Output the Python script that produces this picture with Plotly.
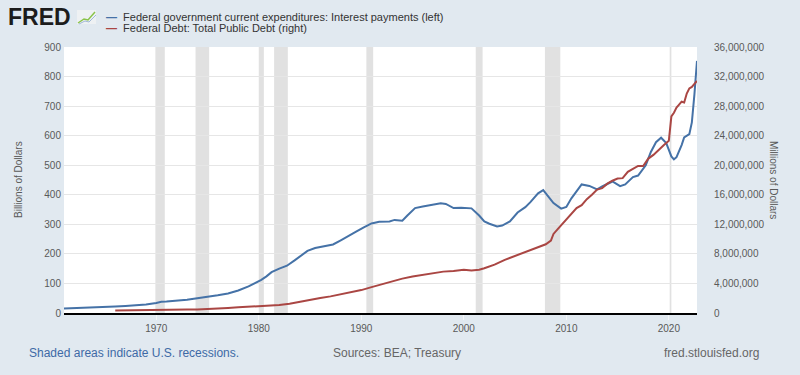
import plotly.graph_objects as go

# ---------------- data ----------------
interest_dates = [
    "1961-01-01", "1962-01-01", "1963-01-01", "1964-01-01", "1965-01-01", "1966-01-01",
    "1967-01-01", "1968-01-01", "1969-01-01", "1970-01-01", "1970-07-01", "1971-01-01",
    "1972-01-01", "1973-01-01", "1974-01-01", "1975-01-01", "1976-01-01", "1977-01-01",
    "1978-01-01", "1979-01-01", "1979-10-01", "1980-04-01", "1980-10-01", "1981-04-01",
    "1982-01-01", "1982-10-01", "1983-07-01", "1984-01-01", "1984-10-01", "1985-07-01",
    "1986-07-01", "1987-04-01", "1988-01-01", "1988-10-01", "1989-07-01", "1990-04-01",
    "1991-01-01", "1991-10-01", "1992-10-01", "1993-04-01", "1994-01-01", "1994-07-01",
    "1995-04-01", "1996-01-01", "1997-01-01", "1997-10-01", "1998-04-01", "1999-01-01",
    "1999-10-01", "2000-10-01", "2001-07-01", "2002-01-01", "2002-07-01", "2003-04-01",
    "2003-10-01", "2004-07-01", "2005-04-01", "2006-01-01", "2006-07-01", "2007-04-01",
    "2007-10-01", "2008-04-01", "2008-10-01", "2009-07-01", "2010-01-01", "2010-07-01",
    "2011-01-01", "2011-07-01", "2012-04-01", "2013-01-01", "2013-07-01", "2014-07-01",
    "2015-04-01", "2015-10-01", "2016-07-01", "2017-01-01", "2017-10-01", "2018-04-01",
    "2018-10-01", "2019-04-01", "2019-10-01", "2020-04-01", "2020-07-01", "2020-10-01",
    "2021-04-01", "2021-07-01", "2022-01-01", "2022-04-01", "2022-07-01", "2022-10-01",
]
interest_values = [  # billions of dollars
    15, 16, 18, 19, 20, 22,
    24, 26, 29, 34, 38, 39,
    41, 45, 50, 54, 60, 66,
    76, 90, 103, 112, 124, 138,
    150, 160, 178, 192, 210, 220,
    226, 232, 246, 262, 275, 290,
    303, 309, 310, 315, 312, 330,
    355, 360, 366, 371, 369, 355,
    356, 354, 330, 310, 302, 293,
    296, 310, 340, 358, 375, 405,
    416, 395, 372, 353, 359, 388,
    410, 435, 430, 418, 428, 445,
    429, 435, 460, 465, 500, 545,
    578, 593, 575, 530, 520, 527,
    568, 594, 605, 645, 740, 853,
]

debt_dates = [
    "1966-01-01", "1967-01-01", "1968-01-01", "1969-01-01", "1970-01-01", "1971-01-01",
    "1972-01-01", "1973-01-01", "1974-01-01", "1975-01-01", "1976-01-01", "1977-01-01",
    "1978-01-01", "1979-01-01", "1980-01-01", "1981-01-01", "1982-01-01", "1983-01-01",
    "1984-01-01", "1985-01-01", "1986-01-01", "1987-01-01", "1988-01-01", "1989-01-01",
    "1990-01-01", "1991-01-01", "1992-01-01", "1993-01-01", "1994-01-01", "1995-01-01",
    "1996-01-01", "1997-01-01", "1998-01-01", "1999-01-01", "2000-01-01", "2000-10-01",
    "2001-07-01", "2002-01-01", "2003-01-01", "2004-01-01", "2005-01-01", "2006-01-01",
    "2007-01-01", "2008-01-01", "2008-07-01", "2008-10-01", "2009-04-01", "2010-01-01",
    "2010-07-01", "2011-01-01", "2011-07-01", "2012-01-01", "2012-07-01", "2013-01-01",
    "2013-07-01", "2014-01-01", "2014-07-01", "2015-01-01", "2015-07-01", "2016-01-01",
    "2016-07-01", "2017-01-01", "2017-07-01", "2018-01-01", "2018-07-01", "2019-01-01",
    "2019-07-01", "2020-01-01", "2020-04-01", "2020-07-01", "2020-10-01", "2021-01-01",
    "2021-04-01", "2021-07-01", "2021-10-01", "2022-01-01", "2022-04-01", "2022-07-01",
    "2022-10-01",
]
debt_values = [  # millions of dollars
    325000, 330000, 350000, 360000, 375000, 400000,
    430000, 460000, 475000, 520000, 610000, 690000,
    770000, 830000, 880000, 960000, 1090000, 1260000,
    1480000, 1720000, 2020000, 2250000, 2500000, 2800000,
    3100000, 3500000, 3900000, 4300000, 4650000, 4950000,
    5200000, 5450000, 5600000, 5700000, 5850000, 5750000,
    5850000, 6050000, 6550000, 7200000, 7750000, 8300000,
    8800000, 9300000, 9800000, 10700000, 11500000, 12600000,
    13400000, 14200000, 14600000, 15400000, 16000000, 16700000,
    16900000, 17500000, 17900000, 18200000, 18250000, 19100000,
    19500000, 19900000, 19900000, 20900000, 21400000, 22100000,
    22700000, 23300000, 26600000, 27100000, 27800000, 28200000,
    28600000, 28500000, 29700000, 30400000, 30600000, 31000000,
    31400000,
]

recession_starts = ["1969-12-01", "1973-11-01", "1980-01-01", "1981-07-01",
                    "1990-07-01", "2001-03-01", "2007-12-01", "2020-02-01"]
recession_ends = ["1970-11-01", "1975-03-01", "1980-07-01", "1982-11-01",
                  "1991-03-01", "2001-11-01", "2009-06-01", "2020-04-01"]

series_names = ["Federal government current expenditures: Interest payments (left)",
                "Federal Debt: Total Public Debt (right)"]
left_title = "Billions of Dollars"
right_title = "Millions of Dollars"

# ---------------- layout geometry ----------------
W, H = 800, 375
L, R, T, B = 64, 697, 47, 313
BG = "#e1e9f0"
BLUE = "#4572a7"
RED = "#aa4643"
FONT = "Liberation Sans, Arial, sans-serif"


def px(x):
    return (x - L) / (R - L)


def py(y):
    return (B - y) / (B - T)


fig = go.Figure()
fig.add_trace(go.Scatter(x=interest_dates, y=interest_values, mode="lines",
                         line=dict(color=BLUE, width=2), name=series_names[0],
                         yaxis="y"))
fig.add_trace(go.Scatter(x=debt_dates, y=debt_values, mode="lines",
                         line=dict(color=RED, width=2), name=series_names[1],
                         yaxis="y2"))

shapes = []
for s, e in zip(recession_starts, recession_ends):
    shapes.append(dict(type="rect", xref="x", yref="paper", x0=s, x1=e, y0=0, y1=1,
                       fillcolor="#e1e1e1", line=dict(width=0), layer="below"))

# small FRED chart icon
shapes.append(dict(type="rect", xref="paper", yref="paper",
                   x0=px(77), x1=px(96), y0=py(24), y1=py(10),
                   fillcolor="#eef1f3", line=dict(width=0)))
shapes.append(dict(type="path", xref="paper", yref="paper",
                   path=f"M {px(78)},{py(23)} L {px(84)},{py(19)} L {px(88)},{py(20)} L {px(95)},{py(12)}",
                   line=dict(color="#8bc34a", width=1.5)))
shapes.append(dict(type="path", xref="paper", yref="paper",
                   path=f"M {px(79)},{py(24)} L {px(85)},{py(21)} L {px(89)},{py(22)} L {px(96)},{py(15)}",
                   line=dict(color="#9fb8d6", width=1)))

annotations = [
    dict(text="<b>FRED</b>", x=px(6), y=py(17), xref="paper", yref="paper",
         xanchor="left", yanchor="middle", showarrow=False,
         font=dict(family=FONT, size=23, color="#1c1c1c")),
    dict(text=f"<span style='color:{BLUE}'><b>—</b></span>  {series_names[0]}",
         x=px(104), y=py(16.5), xref="paper", yref="paper", xanchor="left",
         yanchor="middle", showarrow=False, font=dict(family=FONT, size=11, color="#333333")),
    dict(text=f"<span style='color:{RED}'><b>—</b></span>  {series_names[1]}",
         x=px(104), y=py(28), xref="paper", yref="paper", xanchor="left",
         yanchor="middle", showarrow=False, font=dict(family=FONT, size=11, color="#333333")),
    dict(text=left_title, x=px(18), y=py(180), xref="paper", yref="paper",
         xanchor="center", yanchor="middle", textangle=-90, showarrow=False,
         font=dict(family=FONT, size=10, color="#595959")),
    dict(text=right_title, x=px(774), y=py(180), xref="paper", yref="paper",
         xanchor="center", yanchor="middle", textangle=90, showarrow=False,
         font=dict(family=FONT, size=10, color="#595959")),
    dict(text="Shaded areas indicate U.S. recessions.", x=px(27), y=py(353),
         xref="paper", yref="paper", xanchor="left", yanchor="middle", showarrow=False,
         font=dict(family=FONT, size=12, color="#3e6aa6")),
    dict(text="Sources: BEA; Treasury", x=px(397), y=py(353),
         xref="paper", yref="paper", xanchor="center", yanchor="middle", showarrow=False,
         font=dict(family=FONT, size=12, color="#666666")),
    dict(text="fred.stlouisfed.org", x=px(761), y=py(353),
         xref="paper", yref="paper", xanchor="right", yanchor="middle", showarrow=False,
         font=dict(family=FONT, size=12, color="#666666")),
]

fig.update_layout(
    width=W, height=H,
    margin=dict(l=L, r=W - R, t=T, b=H - B, pad=0),
    paper_bgcolor=BG, plot_bgcolor="#ffffff",
    showlegend=False,
    font=dict(family=FONT, size=10, color="#595959"),
    shapes=shapes, annotations=annotations,
    xaxis=dict(type="date", range=["1961-01-01", "2022-10-01"],
               tick0="1970-01-01", dtick="M120", tickformat="%Y",
               showgrid=False, zeroline=False,
               showline=True, linecolor="#000000", linewidth=2,
               ticks="outside", ticklen=5, tickcolor="#f4f6f8",
               tickfont=dict(size=10, color="#595959")),
    yaxis=dict(range=[0, 900], dtick=100, showgrid=True, gridcolor="#e6e6e6",
               gridwidth=1, zeroline=False, showline=False, ticks="",
               ticklabelstandoff=2, tickfont=dict(size=10, color="#595959")),
    yaxis2=dict(range=[0, 36000000], dtick=4000000, overlaying="y", side="right",
                showgrid=False, zeroline=False, showline=False, ticks="",
                tickformat=",d", ticklabelstandoff=16,
                tickfont=dict(size=10, color="#595959")),
)

fig.write_html("out.html", config={"displayModeBar": False},
               post_script="document.body.style.margin='0';document.body.style.padding='0';")
